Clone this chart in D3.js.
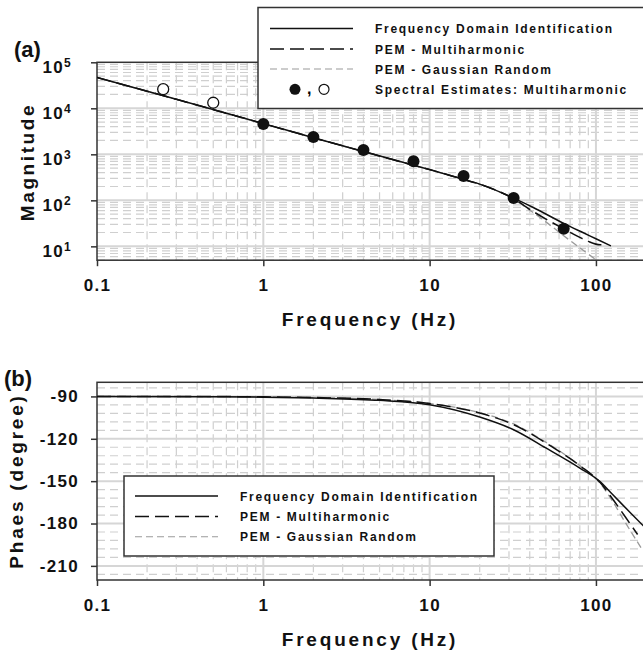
<!DOCTYPE html>
<html>
<head>
<meta charset="utf-8">
<script src="https://cdn.jsdelivr.net/npm/d3@7"></script>
<style>
  body { margin: 0; background: #fff; }
  svg { display: block; font-family: "Liberation Sans", Arial, sans-serif; font-weight: bold; }
</style>
</head>
<body>
<svg id="chart" width="643" height="653"></svg>
<script>
// ---- data ----
const fdiMagFreq = [0.1, 0.3, 1, 2, 4, 8, 10, 16, 20, 32, 42, 64, 84, 100, 123];
const fdiMag     = [47000, 15700, 4650, 2300, 1150, 580, 465, 285, 225, 112, 70, 31.6, 19.7, 14.6, 10.2];

const pemMhMagFreq = [0.1, 0.3, 1, 2, 4, 8, 10, 16, 20, 32, 42, 64, 80, 90, 106, 110];
const pemMhMag     = [47000, 15700, 4650, 2300, 1150, 580, 468, 285, 225, 108, 57, 24, 15.7, 12.8, 10.8, 10.8];

const pemGrMagFreq = [0.1, 0.3, 1, 2, 4, 8, 10, 16, 20, 32, 42, 50, 64, 80, 100];
const pemGrMag     = [46500, 15600, 4620, 2290, 1140, 575, 465, 283, 222, 106, 54, 34, 17, 9.3, 5.1];

const specFreqOpen = [0.25, 0.5];
const specMagOpen  = [26000, 13200];
const specFreqFull = [1, 2, 4, 8, 16, 32, 64];
const specMagFull  = [4560, 2380, 1240, 705, 337, 112, 24];

const fdiPhFreq = [0.1, 0.5, 1, 2, 5, 10, 20, 32, 50, 80, 105, 126, 160, 200];
const fdiPh     = [-90, -90.2, -90.5, -91.2, -92.8, -95.9, -104.6, -113.6, -126.5, -140.7, -150, -159.5, -172, -183.6];

const pemMhPhFreq = [0.1, 0.5, 1, 2, 5, 10, 20, 32, 50, 80, 105, 126, 150, 178];
const pemMhPh     = [-90, -90.1, -90.3, -90.8, -92.2, -95, -101.8, -110, -123, -139, -150.5, -162.6, -175.2, -187.8];

const pemGrPhFreq = [0.1, 0.5, 1, 2, 5, 10, 20, 32, 50, 80, 105, 126, 150, 190];
const pemGrPh     = [-90, -90.1, -90.3, -90.8, -92.2, -95, -101.5, -109.5, -122.5, -139, -151, -164.3, -179.2, -198.5];

const freqTicks = [0.1, 1, 10, 100];
const magTicks = [10, 100, 1000, 10000, 100000];
const phaseTicks = [-90, -120, -150, -180, -210];

const legendLabels = ["Frequency Domain Identification", "PEM - Multiharmonic", "PEM - Gaussian Random"];
const specLabel = "Spectral Estimates: Multiharmonic";

const styles = [
  { stroke: "#111", width: 1.5, dash: null },
  { stroke: "#111", width: 1.5, dash: "14,6" },
  { stroke: "#9a9a9a", width: 1.3, dash: "7,4" }
];

const zip = (a, b) => a.map((v, i) => [v, b[i]]);

const svg = d3.select("#chart");
const left = 97, right = 646;

const x = d3.scaleLog().domain([0.1, 200]).range([left, right]);
const yMag = d3.scaleLog().domain([5, 1e5]).range([260.2, 62.3]);
const yPh = d3.scaleLinear().domain([-220, -80]).range([580, 382.3]);

// minor log steps across the x domain
const xMinor = [];
[0.1, 1, 10, 100].forEach(d => d3.range(2, 10).forEach(k => { if (d * k <= 200) xMinor.push(d * k); }));

function drawPanel(y, yMinor, yMajor, top, bottom) {
  const g = svg.append("g");
  const gridColor = "#cfcfcf";
  // minor grid
  g.selectAll(".hmin").data(yMinor).join("line")
    .attr("x1", left).attr("x2", right)
    .attr("y1", d => y(d)).attr("y2", d => y(d))
    .attr("stroke", gridColor).attr("stroke-width", 1.2).attr("stroke-dasharray", "8,5");
  g.selectAll(".vmin").data(xMinor).join("line")
    .attr("x1", d => x(d)).attr("x2", d => x(d))
    .attr("y1", top).attr("y2", bottom)
    .attr("stroke", gridColor).attr("stroke-width", 1.2).attr("stroke-dasharray", "8,5");
  // major grid
  g.selectAll(".hmaj").data(yMajor).join("line")
    .attr("x1", left).attr("x2", right)
    .attr("y1", d => y(d)).attr("y2", d => y(d))
    .attr("stroke", "#d6d6d6").attr("stroke-width", 2);
  g.selectAll(".vmaj").data(freqTicks.slice(1)).join("line")
    .attr("x1", d => x(d)).attr("x2", d => x(d))
    .attr("y1", top).attr("y2", bottom)
    .attr("stroke", "#d6d6d6").attr("stroke-width", 2);
  // frame
  g.append("rect")
    .attr("x", left).attr("y", top).attr("width", right - left).attr("height", bottom - top)
    .attr("fill", "none").attr("stroke", "#333").attr("stroke-width", 1.5);
  return g;
}

function styleAxis(ax) {
  ax.select(".domain").remove();
  ax.selectAll(".tick line").attr("stroke", "#333").attr("stroke-width", 1.5);
  ax.selectAll(".tick text")
    .attr("fill", "#111")
    .style("font-size", "17px")
    .style("font-weight", "bold")
    .style("letter-spacing", "1.3px");
}

function xAxisTitle(yPos) {
  svg.append("text")
    .attr("x", 370).attr("y", yPos)
    .attr("text-anchor", "middle")
    .style("font-size", "19px").style("letter-spacing", "2.8px")
    .attr("fill", "#111")
    .text("Frequency (Hz)");
}

svg.append("clipPath").attr("id", "clipA").append("rect")
  .attr("x", left).attr("y", 62.3).attr("width", right - left).attr("height", 260.2 - 62.3);
svg.append("clipPath").attr("id", "clipB").append("rect")
  .attr("x", left).attr("y", 382.3).attr("width", right - left).attr("height", 580 - 382.3);

// ---------- panel (a) magnitude ----------
const magMinor = [];
[1, 10, 100, 1000, 10000].forEach(d => d3.range(2, 10).forEach(k => { if (d * k >= 5 && d * k < 1e5) magMinor.push(d * k); }));
drawPanel(yMag, magMinor, magTicks.slice(0, 4), 62.3, 260.2);

const xAxA = svg.append("g").attr("transform", "translate(0,260.2)")
  .call(d3.axisBottom(x).tickValues(freqTicks).tickSize(6).tickPadding(13).tickFormat(d => String(d)));
styleAxis(xAxA);

const yAxA = svg.append("g").attr("transform", `translate(${left},0)`)
  .call(d3.axisLeft(yMag).tickValues(magTicks).tickSize(6).tickPadding(19).tickFormat(() => ""));
styleAxis(yAxA);
yAxA.selectAll(".tick text").each(function(d) {
  const t = d3.select(this).attr("dy", "0.85em").attr("y", -4);
  t.append("tspan").text("10");
  t.append("tspan").attr("dy", "-0.55em").style("font-size", "12px").text(Math.round(Math.log10(d)));
});

const lineA = d3.line().x(d => x(d[0])).y(d => yMag(d[1])).curve(d3.curveMonotoneX);
const magSeries = [zip(fdiMagFreq, fdiMag), zip(pemMhMagFreq, pemMhMag), zip(pemGrMagFreq, pemGrMag)];
const plotA = svg.append("g").attr("clip-path", "url(#clipA)");
[2, 1, 0].forEach(i => {
  plotA.append("path").datum(magSeries[i])
    .attr("d", lineA).attr("fill", "none")
    .attr("stroke", styles[i].stroke).attr("stroke-width", styles[i].width)
    .attr("stroke-dasharray", styles[i].dash);
});
plotA.selectAll(".open").data(zip(specFreqOpen, specMagOpen)).join("circle")
  .attr("cx", d => x(d[0])).attr("cy", d => yMag(d[1])).attr("r", 5.5)
  .attr("fill", "#fff").attr("stroke", "#111").attr("stroke-width", 1.3);
plotA.selectAll(".full").data(zip(specFreqFull, specMagFull)).join("circle")
  .attr("cx", d => x(d[0])).attr("cy", d => yMag(d[1])).attr("r", 6)
  .attr("fill", "#111");

// legend (a)
const legA = svg.append("g");
legA.append("rect").attr("x", 258).attr("y", 7.5).attr("width", 400).attr("height", 101)
  .attr("fill", "#fff").attr("stroke", "#333").attr("stroke-width", 1.5);
const rowsA = [28.5, 49, 69, 89.3];
legendLabels.forEach((lab, i) => {
  legA.append("line").attr("x1", 270).attr("x2", 353).attr("y1", rowsA[i]).attr("y2", rowsA[i])
    .attr("stroke", styles[i].stroke).attr("stroke-width", i === 2 ? 1.1 : 1.3)
    .attr("stroke-dasharray", styles[i].dash);
});
legA.append("circle").attr("cx", 295).attr("cy", rowsA[3]).attr("r", 5.5).attr("fill", "#111");
legA.append("text").attr("x", 307).attr("y", rowsA[3] + 5).style("font-size", "16px").text(",");
legA.append("circle").attr("cx", 324).attr("cy", rowsA[3]).attr("r", 5).attr("fill", "#fff")
  .attr("stroke", "#111").attr("stroke-width", 1.2);
legA.selectAll(".lt").data(legendLabels.concat([specLabel])).join("text")
  .attr("x", 375).attr("y", (d, i) => rowsA[i] + 4.5)
  .style("font-size", "12px").style("letter-spacing", "1.7px").attr("fill", "#111")
  .text(d => d);

svg.append("text").attr("x", 14).attr("y", 57).style("font-size", "22px").attr("fill", "#111").text("(a)");
svg.append("text").attr("transform", "translate(34,162) rotate(-90)").attr("text-anchor", "middle")
  .style("font-size", "19px").style("letter-spacing", "2.6px").attr("fill", "#111").text("Magnitude");
xAxisTitle(326);

// ---------- panel (b) phase ----------
const phMinor = d3.range(-216, -80, 6).filter(d => d % 30 !== 0);
drawPanel(yPh, phMinor, phaseTicks, 382.3, 580);

const xAxB = svg.append("g").attr("transform", "translate(0,580)")
  .call(d3.axisBottom(x).tickValues(freqTicks).tickSize(6).tickPadding(13).tickFormat(d => String(d)));
styleAxis(xAxB);
const yAxB = svg.append("g").attr("transform", `translate(${left},0)`)
  .call(d3.axisLeft(yPh).tickValues(phaseTicks).tickSize(6).tickPadding(12).tickFormat(d => String(d)));
styleAxis(yAxB);

const lineB = d3.line().x(d => x(d[0])).y(d => yPh(d[1])).curve(d3.curveMonotoneX);
const phSeries = [zip(fdiPhFreq, fdiPh), zip(pemMhPhFreq, pemMhPh), zip(pemGrPhFreq, pemGrPh)];
const plotB = svg.append("g").attr("clip-path", "url(#clipB)");
[2, 1, 0].forEach(i => {
  plotB.append("path").datum(phSeries[i])
    .attr("d", lineB).attr("fill", "none")
    .attr("stroke", styles[i].stroke).attr("stroke-width", styles[i].width)
    .attr("stroke-dasharray", styles[i].dash);
});

// legend (b)
const legB = svg.append("g");
legB.append("rect").attr("x", 124).attr("y", 476).attr("width", 370).attr("height", 80)
  .attr("fill", "#fff").attr("stroke", "#333").attr("stroke-width", 1.5);
const rowsB = [496, 516.5, 536.7];
legendLabels.forEach((lab, i) => {
  legB.append("line").attr("x1", 135).attr("x2", 218).attr("y1", rowsB[i]).attr("y2", rowsB[i])
    .attr("stroke", styles[i].stroke).attr("stroke-width", i === 2 ? 1.1 : 1.3)
    .attr("stroke-dasharray", styles[i].dash);
  legB.append("text").attr("x", 240).attr("y", rowsB[i] + 4.5)
    .style("font-size", "12px").style("letter-spacing", "1.7px").attr("fill", "#111")
    .text(lab);
});

svg.append("text").attr("x", 4).attr("y", 386).style("font-size", "22px").attr("fill", "#111").text("(b)");
svg.append("text").attr("transform", "translate(23,481) rotate(-90)").attr("text-anchor", "middle")
  .style("font-size", "19px").style("letter-spacing", "2.8px").attr("fill", "#111").text("Phaes (degree)");
xAxisTitle(646);
</script>
</body>
</html>
